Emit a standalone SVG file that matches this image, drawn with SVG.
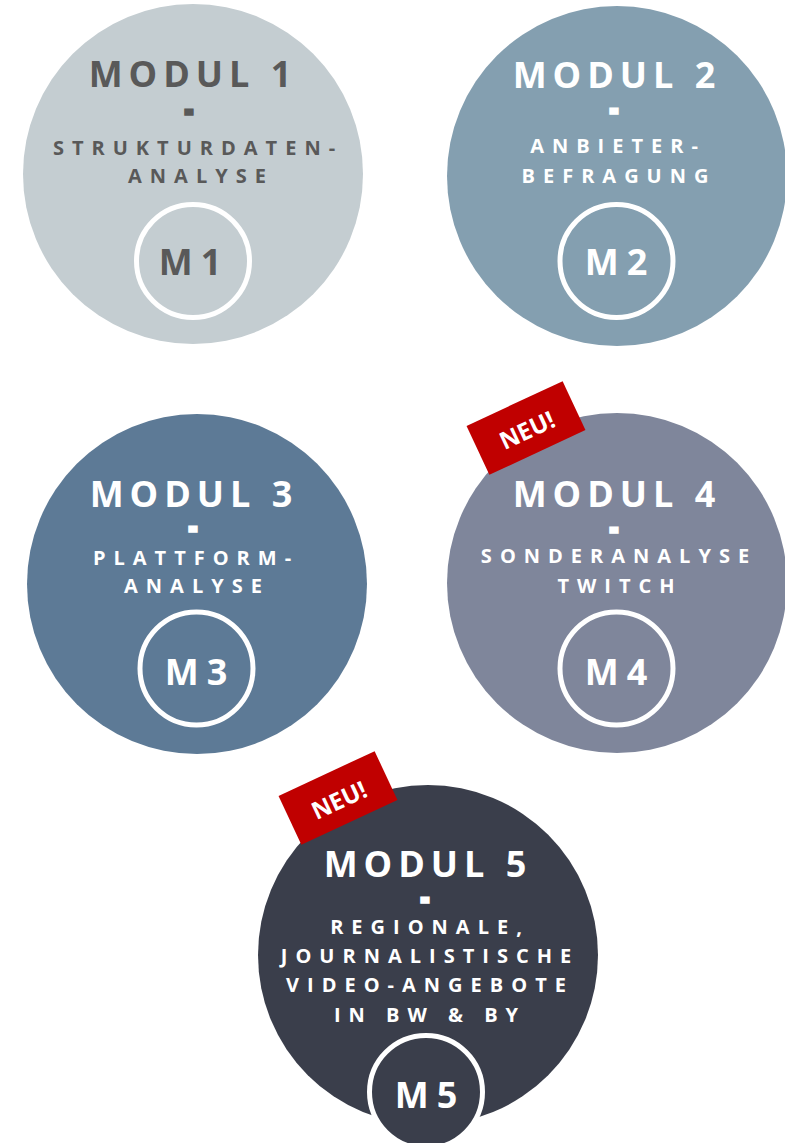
<svg xmlns="http://www.w3.org/2000/svg" width="785" height="1143" viewBox="0 0 785 1143">
<style>
.t{font-family:"Open Sans","Liberation Sans",sans-serif;font-weight:700;text-anchor:middle}
.title{font-size:36px;letter-spacing:6px}
.sub{font-size:20px;letter-spacing:8px}
.dash{font-size:15px;stroke-width:5.5;stroke-linejoin:miter}
.m{font-size:36px;letter-spacing:8px}
.w{fill:#ffffff;stroke:#ffffff}
.g{fill:#595959;stroke:#595959}
.title,.sub,.m{stroke:none}
.ring{fill:none;stroke:#ffffff;stroke-width:5}
.badge{fill:#c00000}
.neu{font-size:24px;fill:#ffffff;font-family:"Open Sans","Liberation Sans",sans-serif;font-weight:700;text-anchor:middle}
</style>
<rect width="785" height="1143" fill="#ffffff"/>
<g id="connectors"/>
<g id="modul1">
<circle cx="193" cy="174" r="170" fill="#c4cdd1"/>
<text class="t title g" x="193" y="87">MODUL 1</text>
<text class="t dash g" x="189" y="115.5">-</text>
<text class="t sub g" x="198" y="155">STRUKTURDATEN-</text>
<text class="t sub g" x="201" y="183">ANALYSE</text>
<circle class="ring" cx="193" cy="261" r="56.5"/>
<text class="t m g" x="194" y="275">M1</text>
</g>
<g id="modul2">
<circle cx="617" cy="176" r="170" fill="#849fb0"/>
<text class="t title w" x="617" y="88">MODUL 2</text>
<text class="t dash w" x="614" y="115">-</text>
<text class="t sub w" x="618" y="153">ANBIETER-</text>
<text class="t sub w" x="619" y="183">BEFRAGUNG</text>
<circle class="ring" cx="616.5" cy="261" r="56.5"/>
<text class="t m w" x="620" y="275">M2</text>
</g>
<g id="modul3">
<circle cx="197" cy="584" r="170" fill="#5d7a96"/>
<text class="t title w" x="194" y="507">MODUL 3</text>
<text class="t dash w" x="193" y="532.5">-</text>
<text class="t sub w" x="196" y="565">PLATTFORM-</text>
<text class="t sub w" x="197" y="593">ANALYSE</text>
<circle class="ring" cx="196.5" cy="668.5" r="56.5"/>
<text class="t m w" x="200" y="685">M3</text>
</g>
<g id="modul4">
<circle cx="617" cy="583" r="170" fill="#7f869b"/>
<text class="t title w" x="617" y="507">MODUL 4</text>
<text class="t dash w" x="614" y="534">-</text>
<text class="t sub w" x="619" y="563">SONDERANALYSE</text>
<text class="t sub w" x="620" y="593">TWITCH</text>
<circle class="ring" cx="616.5" cy="668.5" r="56.5"/>
<text class="t m w" x="620" y="685">M4</text>
<g transform="translate(526 428) rotate(-25)">
<rect class="badge" x="-53" y="-27" width="106" height="54"/>
<text class="neu" x="0" y="11">NEU!</text>
</g>
</g>
<g id="modul5">
<circle cx="428" cy="955" r="170" fill="#3a3e4b"/>
<text class="t title w" x="428" y="877">MODUL 5</text>
<text class="t dash w" x="425" y="904">-</text>
<text class="t sub w" x="430" y="934">REGIONALE,</text>
<text class="t sub w" x="430" y="963">JOURNALISTISCHE</text>
<text class="t sub w" x="430" y="992">VIDEO-ANGEBOTE</text>
<text class="t sub w" x="430" y="1022">IN BW &amp; BY</text>
<circle class="ring" cx="426" cy="1092" r="56.5" style="fill:#3a3e4b"/>
<text class="t m w" x="430" y="1108">M5</text>
<g transform="translate(338 798) rotate(-25)">
<rect class="badge" x="-53" y="-27" width="106" height="54"/>
<text class="neu" x="0" y="11">NEU!</text>
</g>
</g>
</svg>
